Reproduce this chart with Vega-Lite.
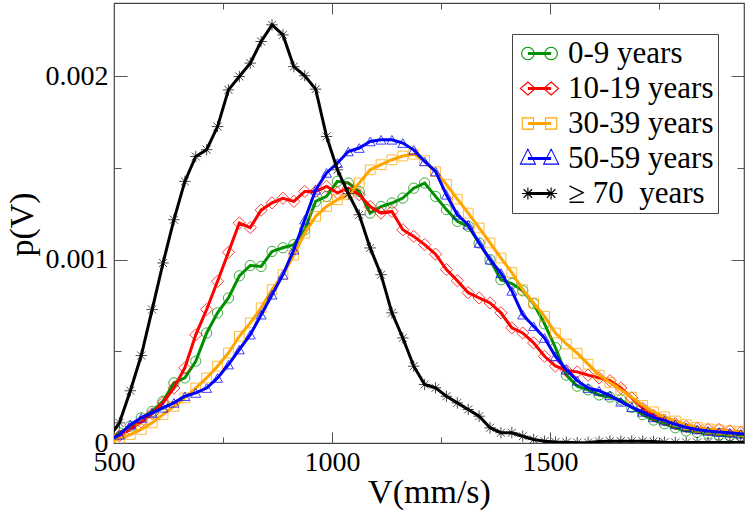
{
  "$schema": "https://vega.github.io/schema/vega-lite/v6.json",
  "width": 630,
  "height": 440,
  "autosize": {"type": "none"},
  "padding": {"left": 114, "top": 3, "right": 5, "bottom": 68},
  "background": "white",
  "config": {
    "view": {"stroke": "#444", "strokeWidth": 1.2},
    "axis": {"domain": false, "grid": false, "tickColor": "#555", "tickWidth": 1, "labelFont": "Liberation Serif", "labelFontSize": 28, "labelColor": "black", "titleFont": "Liberation Serif", "titleFontSize": 34, "titleFontWeight": "normal", "titleColor": "black", "labelFlush": false, "labelOverlap": false},
    "legend": {"labelFont": "Liberation Serif", "labelFontSize": 31, "labelColor": "black", "labelLimit": 400, "padding": 4, "strokeColor": "#444", "fillColor": "white", "symbolSize": 625, "symbolStrokeWidth": 1.1, "symbolOffset": 8, "labelOffset": 13, "rowPadding": 3, "symbolOpacity": 1}
  },
  "datasets": {
    "curves": [
      {"group":"0-9 years","V":487.5,"p":0.02e-3},{"group":"0-9 years","V":512.5,"p":0.055e-3},{"group":"0-9 years","V":537.5,"p":0.092e-3},{"group":"0-9 years","V":562.5,"p":0.137e-3},{"group":"0-9 years","V":587.5,"p":0.173e-3},{"group":"0-9 years","V":612.5,"p":0.228e-3},{"group":"0-9 years","V":637.5,"p":0.328e-3},{"group":"0-9 years","V":662.5,"p":0.355e-3},{"group":"0-9 years","V":687.5,"p":0.446e-3},{"group":"0-9 years","V":712.5,"p":0.6e-3},
      {"group":"0-9 years","V":737.5,"p":0.71e-3},{"group":"0-9 years","V":762.5,"p":0.791e-3},{"group":"0-9 years","V":787.5,"p":0.912e-3},{"group":"0-9 years","V":812.5,"p":0.968e-3},{"group":"0-9 years","V":837.5,"p":0.963e-3},{"group":"0-9 years","V":862.5,"p":1.045e-3},{"group":"0-9 years","V":887.5,"p":1.065e-3},{"group":"0-9 years","V":912.5,"p":1.082e-3},{"group":"0-9 years","V":937.5,"p":1.163e-3},{"group":"0-9 years","V":962.5,"p":1.318e-3},
      {"group":"0-9 years","V":987.5,"p":1.345e-3},{"group":"0-9 years","V":1012.5,"p":1.427e-3},{"group":"0-9 years","V":1037.5,"p":1.418e-3},{"group":"0-9 years","V":1062.5,"p":1.372e-3},{"group":"0-9 years","V":1087.5,"p":1.254e-3},{"group":"0-9 years","V":1112.5,"p":1.29e-3},{"group":"0-9 years","V":1137.5,"p":1.309e-3},{"group":"0-9 years","V":1162.5,"p":1.336e-3},{"group":"0-9 years","V":1187.5,"p":1.39e-3},{"group":"0-9 years","V":1212.5,"p":1.418e-3},
      {"group":"0-9 years","V":1237.5,"p":1.345e-3},{"group":"0-9 years","V":1262.5,"p":1.273e-3},{"group":"0-9 years","V":1287.5,"p":1.209e-3},{"group":"0-9 years","V":1312.5,"p":1.182e-3},{"group":"0-9 years","V":1337.5,"p":1.091e-3},{"group":"0-9 years","V":1362.5,"p":1.0e-3},{"group":"0-9 years","V":1387.5,"p":0.89e-3},{"group":"0-9 years","V":1412.5,"p":0.87e-3},{"group":"0-9 years","V":1437.5,"p":0.83e-3},{"group":"0-9 years","V":1462.5,"p":0.76e-3},
      {"group":"0-9 years","V":1487.5,"p":0.65e-3},{"group":"0-9 years","V":1512.5,"p":0.52e-3},{"group":"0-9 years","V":1537.5,"p":0.37e-3},{"group":"0-9 years","V":1562.5,"p":0.31e-3},{"group":"0-9 years","V":1587.5,"p":0.29e-3},{"group":"0-9 years","V":1612.5,"p":0.262e-3},{"group":"0-9 years","V":1637.5,"p":0.25e-3},{"group":"0-9 years","V":1662.5,"p":0.235e-3},{"group":"0-9 years","V":1687.5,"p":0.195e-3},{"group":"0-9 years","V":1712.5,"p":0.155e-3},
      {"group":"0-9 years","V":1737.5,"p":0.125e-3},{"group":"0-9 years","V":1762.5,"p":0.105e-3},{"group":"0-9 years","V":1787.5,"p":0.083e-3},{"group":"0-9 years","V":1812.5,"p":0.066e-3},{"group":"0-9 years","V":1837.5,"p":0.058e-3},{"group":"0-9 years","V":1862.5,"p":0.05e-3},{"group":"0-9 years","V":1887.5,"p":0.044e-3},{"group":"0-9 years","V":1912.5,"p":0.04e-3},{"group":"0-9 years","V":1937.5,"p":0.037e-3},{"group":"0-9 years","V":1962.5,"p":0.035e-3},

      {"group":"10-19 years","V":487.5,"p":0.01e-3},{"group":"10-19 years","V":512.5,"p":0.04e-3},{"group":"10-19 years","V":537.5,"p":0.075e-3},{"group":"10-19 years","V":562.5,"p":0.115e-3},{"group":"10-19 years","V":587.5,"p":0.16e-3},{"group":"10-19 years","V":612.5,"p":0.22e-3},{"group":"10-19 years","V":637.5,"p":0.30e-3},{"group":"10-19 years","V":662.5,"p":0.41e-3},{"group":"10-19 years","V":687.5,"p":0.59e-3},{"group":"10-19 years","V":712.5,"p":0.728e-3},
      {"group":"10-19 years","V":737.5,"p":0.882e-3},{"group":"10-19 years","V":762.5,"p":1.04e-3},{"group":"10-19 years","V":787.5,"p":1.2e-3},{"group":"10-19 years","V":812.5,"p":1.175e-3},{"group":"10-19 years","V":837.5,"p":1.27e-3},{"group":"10-19 years","V":862.5,"p":1.31e-3},{"group":"10-19 years","V":887.5,"p":1.335e-3},{"group":"10-19 years","V":912.5,"p":1.318e-3},{"group":"10-19 years","V":937.5,"p":1.372e-3},{"group":"10-19 years","V":962.5,"p":1.372e-3},
      {"group":"10-19 years","V":987.5,"p":1.40e-3},{"group":"10-19 years","V":1012.5,"p":1.364e-3},{"group":"10-19 years","V":1037.5,"p":1.39e-3},{"group":"10-19 years","V":1062.5,"p":1.354e-3},{"group":"10-19 years","V":1087.5,"p":1.29e-3},{"group":"10-19 years","V":1112.5,"p":1.254e-3},{"group":"10-19 years","V":1137.5,"p":1.263e-3},{"group":"10-19 years","V":1162.5,"p":1.163e-3},{"group":"10-19 years","V":1187.5,"p":1.127e-3},{"group":"10-19 years","V":1212.5,"p":1.082e-3},
      {"group":"10-19 years","V":1237.5,"p":1.03e-3},{"group":"10-19 years","V":1262.5,"p":0.946e-3},{"group":"10-19 years","V":1287.5,"p":0.885e-3},{"group":"10-19 years","V":1312.5,"p":0.82e-3},{"group":"10-19 years","V":1337.5,"p":0.791e-3},{"group":"10-19 years","V":1362.5,"p":0.764e-3},{"group":"10-19 years","V":1387.5,"p":0.71e-3},{"group":"10-19 years","V":1412.5,"p":0.628e-3},{"group":"10-19 years","V":1437.5,"p":0.6e-3},{"group":"10-19 years","V":1462.5,"p":0.546e-3},
      {"group":"10-19 years","V":1487.5,"p":0.473e-3},{"group":"10-19 years","V":1512.5,"p":0.42e-3},{"group":"10-19 years","V":1537.5,"p":0.395e-3},{"group":"10-19 years","V":1562.5,"p":0.388e-3},{"group":"10-19 years","V":1587.5,"p":0.37e-3},{"group":"10-19 years","V":1612.5,"p":0.355e-3},{"group":"10-19 years","V":1637.5,"p":0.34e-3},{"group":"10-19 years","V":1662.5,"p":0.30e-3},{"group":"10-19 years","V":1687.5,"p":0.246e-3},{"group":"10-19 years","V":1712.5,"p":0.19e-3},
      {"group":"10-19 years","V":1737.5,"p":0.15e-3},{"group":"10-19 years","V":1762.5,"p":0.125e-3},{"group":"10-19 years","V":1787.5,"p":0.105e-3},{"group":"10-19 years","V":1812.5,"p":0.09e-3},{"group":"10-19 years","V":1837.5,"p":0.08e-3},{"group":"10-19 years","V":1862.5,"p":0.074e-3},{"group":"10-19 years","V":1887.5,"p":0.074e-3},{"group":"10-19 years","V":1912.5,"p":0.066e-3},{"group":"10-19 years","V":1937.5,"p":0.058e-3},{"group":"10-19 years","V":1962.5,"p":0.055e-3},

      {"group":"30-39 years","V":487.5,"p":0.005e-3},{"group":"30-39 years","V":512.5,"p":0.023e-3},{"group":"30-39 years","V":537.5,"p":0.046e-3},{"group":"30-39 years","V":562.5,"p":0.074e-3},{"group":"30-39 years","V":587.5,"p":0.11e-3},{"group":"30-39 years","V":612.5,"p":0.155e-3},{"group":"30-39 years","V":637.5,"p":0.2e-3},{"group":"30-39 years","V":662.5,"p":0.246e-3},{"group":"30-39 years","V":687.5,"p":0.3e-3},{"group":"30-39 years","V":712.5,"p":0.355e-3},
      {"group":"30-39 years","V":737.5,"p":0.419e-3},{"group":"30-39 years","V":762.5,"p":0.491e-3},{"group":"30-39 years","V":787.5,"p":0.582e-3},{"group":"30-39 years","V":812.5,"p":0.655e-3},{"group":"30-39 years","V":837.5,"p":0.737e-3},{"group":"30-39 years","V":862.5,"p":0.837e-3},{"group":"30-39 years","V":887.5,"p":0.918e-3},{"group":"30-39 years","V":912.5,"p":1.025e-3},{"group":"30-39 years","V":937.5,"p":1.145e-3},{"group":"30-39 years","V":962.5,"p":1.236e-3},
      {"group":"30-39 years","V":987.5,"p":1.29e-3},{"group":"30-39 years","V":1012.5,"p":1.327e-3},{"group":"30-39 years","V":1037.5,"p":1.354e-3},{"group":"30-39 years","V":1062.5,"p":1.418e-3},{"group":"30-39 years","V":1087.5,"p":1.49e-3},{"group":"30-39 years","V":1112.5,"p":1.518e-3},{"group":"30-39 years","V":1137.5,"p":1.545e-3},{"group":"30-39 years","V":1162.5,"p":1.565e-3},{"group":"30-39 years","V":1187.5,"p":1.575e-3},{"group":"30-39 years","V":1212.5,"p":1.54e-3},
      {"group":"30-39 years","V":1237.5,"p":1.48e-3},{"group":"30-39 years","V":1262.5,"p":1.41e-3},{"group":"30-39 years","V":1287.5,"p":1.33e-3},{"group":"30-39 years","V":1312.5,"p":1.254e-3},{"group":"30-39 years","V":1337.5,"p":1.173e-3},{"group":"30-39 years","V":1362.5,"p":1.091e-3},{"group":"30-39 years","V":1387.5,"p":1.009e-3},{"group":"30-39 years","V":1412.5,"p":0.93e-3},{"group":"30-39 years","V":1437.5,"p":0.837e-3},{"group":"30-39 years","V":1462.5,"p":0.764e-3},
      {"group":"30-39 years","V":1487.5,"p":0.691e-3},{"group":"30-39 years","V":1512.5,"p":0.6e-3},{"group":"30-39 years","V":1537.5,"p":0.54e-3},{"group":"30-39 years","V":1562.5,"p":0.49e-3},{"group":"30-39 years","V":1587.5,"p":0.43e-3},{"group":"30-39 years","V":1612.5,"p":0.37e-3},{"group":"30-39 years","V":1637.5,"p":0.33e-3},{"group":"30-39 years","V":1662.5,"p":0.29e-3},{"group":"30-39 years","V":1687.5,"p":0.25e-3},{"group":"30-39 years","V":1712.5,"p":0.205e-3},
      {"group":"30-39 years","V":1737.5,"p":0.17e-3},{"group":"30-39 years","V":1762.5,"p":0.143e-3},{"group":"30-39 years","V":1787.5,"p":0.12e-3},{"group":"30-39 years","V":1812.5,"p":0.1e-3},{"group":"30-39 years","V":1837.5,"p":0.086e-3},{"group":"30-39 years","V":1862.5,"p":0.077e-3},{"group":"30-39 years","V":1887.5,"p":0.072e-3},{"group":"30-39 years","V":1912.5,"p":0.066e-3},{"group":"30-39 years","V":1937.5,"p":0.062e-3},{"group":"30-39 years","V":1962.5,"p":0.06e-3},

      {"group":"50-59 years","V":487.5,"p":0.015e-3},{"group":"50-59 years","V":512.5,"p":0.045e-3},{"group":"50-59 years","V":537.5,"p":0.1e-3},{"group":"50-59 years","V":562.5,"p":0.137e-3},{"group":"50-59 years","V":587.5,"p":0.164e-3},{"group":"50-59 years","V":612.5,"p":0.192e-3},{"group":"50-59 years","V":637.5,"p":0.219e-3},{"group":"50-59 years","V":662.5,"p":0.255e-3},{"group":"50-59 years","V":687.5,"p":0.273e-3},{"group":"50-59 years","V":712.5,"p":0.3e-3},
      {"group":"50-59 years","V":737.5,"p":0.355e-3},{"group":"50-59 years","V":762.5,"p":0.428e-3},{"group":"50-59 years","V":787.5,"p":0.51e-3},{"group":"50-59 years","V":812.5,"p":0.591e-3},{"group":"50-59 years","V":837.5,"p":0.7e-3},{"group":"50-59 years","V":862.5,"p":0.809e-3},{"group":"50-59 years","V":887.5,"p":0.918e-3},{"group":"50-59 years","V":912.5,"p":1.054e-3},{"group":"50-59 years","V":937.5,"p":1.218e-3},{"group":"50-59 years","V":962.5,"p":1.381e-3},
      {"group":"50-59 years","V":987.5,"p":1.473e-3},{"group":"50-59 years","V":1012.5,"p":1.527e-3},{"group":"50-59 years","V":1037.5,"p":1.59e-3},{"group":"50-59 years","V":1062.5,"p":1.609e-3},{"group":"50-59 years","V":1087.5,"p":1.645e-3},{"group":"50-59 years","V":1112.5,"p":1.654e-3},{"group":"50-59 years","V":1137.5,"p":1.654e-3},{"group":"50-59 years","V":1162.5,"p":1.636e-3},{"group":"50-59 years","V":1187.5,"p":1.599e-3},{"group":"50-59 years","V":1212.5,"p":1.536e-3},
      {"group":"50-59 years","V":1237.5,"p":1.481e-3},{"group":"50-59 years","V":1262.5,"p":1.354e-3},{"group":"50-59 years","V":1287.5,"p":1.245e-3},{"group":"50-59 years","V":1312.5,"p":1.191e-3},{"group":"50-59 years","V":1337.5,"p":1.091e-3},{"group":"50-59 years","V":1362.5,"p":1.0e-3},{"group":"50-59 years","V":1387.5,"p":0.927e-3},{"group":"50-59 years","V":1412.5,"p":0.83e-3},{"group":"50-59 years","V":1437.5,"p":0.7e-3},{"group":"50-59 years","V":1462.5,"p":0.637e-3},
      {"group":"50-59 years","V":1487.5,"p":0.573e-3},{"group":"50-59 years","V":1512.5,"p":0.473e-3},{"group":"50-59 years","V":1537.5,"p":0.4e-3},{"group":"50-59 years","V":1562.5,"p":0.34e-3},{"group":"50-59 years","V":1587.5,"p":0.3e-3},{"group":"50-59 years","V":1612.5,"p":0.285e-3},{"group":"50-59 years","V":1637.5,"p":0.26e-3},{"group":"50-59 years","V":1662.5,"p":0.225e-3},{"group":"50-59 years","V":1687.5,"p":0.195e-3},{"group":"50-59 years","V":1712.5,"p":0.17e-3},
      {"group":"50-59 years","V":1737.5,"p":0.14e-3},{"group":"50-59 years","V":1762.5,"p":0.122e-3},{"group":"50-59 years","V":1787.5,"p":0.102e-3},{"group":"50-59 years","V":1812.5,"p":0.085e-3},{"group":"50-59 years","V":1837.5,"p":0.074e-3},{"group":"50-59 years","V":1862.5,"p":0.066e-3},{"group":"50-59 years","V":1887.5,"p":0.06e-3},{"group":"50-59 years","V":1912.5,"p":0.056e-3},{"group":"50-59 years","V":1937.5,"p":0.05e-3},{"group":"50-59 years","V":1962.5,"p":0.046e-3},

      {"group":"≥ 70\u00a0 years","V":487.5,"p":0.03e-3},{"group":"≥ 70\u00a0 years","V":512.5,"p":0.11e-3},{"group":"≥ 70\u00a0 years","V":537.5,"p":0.285e-3},{"group":"≥ 70\u00a0 years","V":562.5,"p":0.477e-3},{"group":"≥ 70\u00a0 years","V":587.5,"p":0.728e-3},{"group":"≥ 70\u00a0 years","V":612.5,"p":0.982e-3},{"group":"≥ 70\u00a0 years","V":637.5,"p":1.218e-3},{"group":"≥ 70\u00a0 years","V":662.5,"p":1.427e-3},{"group":"≥ 70\u00a0 years","V":687.5,"p":1.563e-3},{"group":"≥ 70\u00a0 years","V":712.5,"p":1.60e-3},
      {"group":"≥ 70\u00a0 years","V":737.5,"p":1.726e-3},{"group":"≥ 70\u00a0 years","V":762.5,"p":1.926e-3},{"group":"≥ 70\u00a0 years","V":787.5,"p":1.999e-3},{"group":"≥ 70\u00a0 years","V":812.5,"p":2.072e-3},{"group":"≥ 70\u00a0 years","V":837.5,"p":2.19e-3},{"group":"≥ 70\u00a0 years","V":862.5,"p":2.281e-3},{"group":"≥ 70\u00a0 years","V":887.5,"p":2.226e-3},{"group":"≥ 70\u00a0 years","V":912.5,"p":2.053e-3},{"group":"≥ 70\u00a0 years","V":937.5,"p":2.003e-3},{"group":"≥ 70\u00a0 years","V":962.5,"p":1.93e-3},
      {"group":"≥ 70\u00a0 years","V":987.5,"p":1.672e-3},{"group":"≥ 70\u00a0 years","V":1012.5,"p":1.49e-3},{"group":"≥ 70\u00a0 years","V":1037.5,"p":1.36e-3},{"group":"≥ 70\u00a0 years","V":1062.5,"p":1.245e-3},{"group":"≥ 70\u00a0 years","V":1087.5,"p":1.064e-3},{"group":"≥ 70\u00a0 years","V":1112.5,"p":0.918e-3},{"group":"≥ 70\u00a0 years","V":1137.5,"p":0.71e-3},{"group":"≥ 70\u00a0 years","V":1162.5,"p":0.573e-3},{"group":"≥ 70\u00a0 years","V":1187.5,"p":0.419e-3},{"group":"≥ 70\u00a0 years","V":1212.5,"p":0.319e-3},
      {"group":"≥ 70\u00a0 years","V":1237.5,"p":0.301e-3},{"group":"≥ 70\u00a0 years","V":1262.5,"p":0.255e-3},{"group":"≥ 70\u00a0 years","V":1287.5,"p":0.219e-3},{"group":"≥ 70\u00a0 years","V":1312.5,"p":0.183e-3},{"group":"≥ 70\u00a0 years","V":1337.5,"p":0.146e-3},{"group":"≥ 70\u00a0 years","V":1362.5,"p":0.083e-3},{"group":"≥ 70\u00a0 years","V":1387.5,"p":0.056e-3},{"group":"≥ 70\u00a0 years","V":1412.5,"p":0.056e-3},{"group":"≥ 70\u00a0 years","V":1437.5,"p":0.037e-3},{"group":"≥ 70\u00a0 years","V":1462.5,"p":0.019e-3},
      {"group":"≥ 70\u00a0 years","V":1487.5,"p":0.01e-3},{"group":"≥ 70\u00a0 years","V":1512.5,"p":0.005e-3},{"group":"≥ 70\u00a0 years","V":1537.5,"p":0.004e-3},{"group":"≥ 70\u00a0 years","V":1562.5,"p":0.002e-3},{"group":"≥ 70\u00a0 years","V":1587.5,"p":0.003e-3},{"group":"≥ 70\u00a0 years","V":1612.5,"p":0.008e-3},{"group":"≥ 70\u00a0 years","V":1637.5,"p":0.01e-3},{"group":"≥ 70\u00a0 years","V":1662.5,"p":0.01e-3},{"group":"≥ 70\u00a0 years","V":1687.5,"p":0.01e-3},{"group":"≥ 70\u00a0 years","V":1712.5,"p":0.01e-3},
      {"group":"≥ 70\u00a0 years","V":1737.5,"p":0.008e-3},{"group":"≥ 70\u00a0 years","V":1762.5,"p":0.004e-3},{"group":"≥ 70\u00a0 years","V":1787.5,"p":0.003e-3},{"group":"≥ 70\u00a0 years","V":1812.5,"p":0.003e-3},{"group":"≥ 70\u00a0 years","V":1837.5,"p":0.003e-3},{"group":"≥ 70\u00a0 years","V":1862.5,"p":0.003e-3},{"group":"≥ 70\u00a0 years","V":1887.5,"p":0.003e-3},{"group":"≥ 70\u00a0 years","V":1912.5,"p":0.003e-3},{"group":"≥ 70\u00a0 years","V":1937.5,"p":0.003e-3},{"group":"≥ 70\u00a0 years","V":1962.5,"p":0.003e-3}
    ]
  },
  "data": {"name": "curves"},
  "resolve": {"axis": {"x": "independent", "y": "independent"}},
  "layer": [
    {
      "transform": [{"filter": {"field": "group", "equal": "0-9 years"}}],
      "mark": {"type": "line", "strokeWidth": 3, "clip": true, "color": "#009000"},
      "encoding": {
        "x": {"field": "V", "type": "quantitative", "scale": {"domain": [500, 1945], "nice": false, "zero": false},
              "axis": {"orient": "bottom", "values": [500, 1000, 1500], "format": "d", "tickSize": -11, "labelPadding": 16.5, "title": "V(mm/s)", "titleBaseline": "alphabetic", "titleY": 59}},
        "y": {"field": "p", "type": "quantitative", "scale": {"domain": [0, 0.0024], "nice": false},
              "axis": {"orient": "left", "values": [0, 0.001, 0.002], "labelExpr": "datum.value == 0 ? '0' : format(datum.value, '.3f')", "tickSize": -13, "labelPadding": 19, "title": "p(V)", "titleAngle": -90, "titleBaseline": "alphabetic", "titleX": -82, "titleY": 221}}
      }
    },
    {
      "transform": [{"filter": {"field": "group", "equal": "0-9 years"}}],
      "mark": {"type": "point", "shape": "circle", "size": 105, "strokeWidth": 1, "filled": false, "opacity": 0.75, "clip": true, "color": "#009000"},
      "encoding": {
        "x": {"field": "V", "type": "quantitative", "scale": {"domain": [500, 1945], "nice": false, "zero": false},
              "axis": {"orient": "bottom", "values": [750, 1250, 1750], "labels": false, "tickSize": -6, "title": null}},
        "y": {"field": "p", "type": "quantitative", "scale": {"domain": [0, 0.0024], "nice": false},
              "axis": {"orient": "left", "values": [0.0005, 0.0015], "labels": false, "tickSize": -7, "title": null}}
      }
    },
    {
      "transform": [{"filter": {"field": "group", "equal": "10-19 years"}}],
      "mark": {"type": "line", "strokeWidth": 3, "clip": true, "color": "#ff0000"},
      "encoding": {
        "x": {"field": "V", "type": "quantitative", "scale": {"domain": [500, 1945], "nice": false, "zero": false},
              "axis": {"orient": "top", "values": [500, 1000, 1500], "labels": false, "tickSize": -11, "title": null}},
        "y": {"field": "p", "type": "quantitative", "scale": {"domain": [0, 0.0024], "nice": false},
              "axis": {"orient": "right", "values": [0, 0.001, 0.002], "labels": false, "tickSize": -13, "title": null}}
      }
    },
    {
      "transform": [{"filter": {"field": "group", "equal": "10-19 years"}}],
      "mark": {"type": "point", "shape": "M0,-1L1,0L0,1L-1,0Z", "size": 150, "strokeWidth": 1, "filled": false, "opacity": 0.75, "clip": true, "color": "#ff0000"},
      "encoding": {
        "x": {"field": "V", "type": "quantitative", "scale": {"domain": [500, 1945], "nice": false, "zero": false},
              "axis": {"orient": "top", "values": [750, 1250, 1750], "labels": false, "tickSize": -6, "title": null}},
        "y": {"field": "p", "type": "quantitative", "scale": {"domain": [0, 0.0024], "nice": false},
              "axis": {"orient": "right", "values": [0.0005, 0.0015], "labels": false, "tickSize": -7, "title": null}}
      }
    },
    {
      "transform": [{"filter": {"field": "group", "equal": "30-39 years"}}],
      "mark": {"type": "line", "strokeWidth": 3, "clip": true, "color": "#ffa500"},
      "encoding": {
        "x": {"field": "V", "type": "quantitative", "scale": {"domain": [500, 1945], "nice": false, "zero": false}, "axis": null},
        "y": {"field": "p", "type": "quantitative", "scale": {"domain": [0, 0.0024], "nice": false}, "axis": null}
      }
    },
    {
      "transform": [{"filter": {"field": "group", "equal": "30-39 years"}}],
      "mark": {"type": "point", "shape": "square", "size": 95, "strokeWidth": 1, "filled": false, "opacity": 0.75, "clip": true, "color": "#ffa500"},
      "encoding": {
        "x": {"field": "V", "type": "quantitative", "scale": {"domain": [500, 1945], "nice": false, "zero": false}, "axis": null},
        "y": {"field": "p", "type": "quantitative", "scale": {"domain": [0, 0.0024], "nice": false}, "axis": null}
      }
    },
    {
      "transform": [{"filter": {"field": "group", "equal": "50-59 years"}}],
      "mark": {"type": "line", "strokeWidth": 3, "clip": true, "color": "#0000ff"},
      "encoding": {
        "x": {"field": "V", "type": "quantitative", "scale": {"domain": [500, 1945], "nice": false, "zero": false}, "axis": null},
        "y": {"field": "p", "type": "quantitative", "scale": {"domain": [0, 0.0024], "nice": false}, "axis": null}
      }
    },
    {
      "transform": [{"filter": {"field": "group", "equal": "50-59 years"}}],
      "mark": {"type": "point", "shape": "triangle-up", "size": 100, "strokeWidth": 1, "filled": false, "opacity": 0.75, "clip": true, "color": "#0000ff"},
      "encoding": {
        "x": {"field": "V", "type": "quantitative", "scale": {"domain": [500, 1945], "nice": false, "zero": false}, "axis": null},
        "y": {"field": "p", "type": "quantitative", "scale": {"domain": [0, 0.0024], "nice": false}, "axis": null}
      }
    },
    {
      "transform": [{"filter": {"field": "group", "equal": "≥ 70\u00a0 years"}}],
      "mark": {"type": "line", "strokeWidth": 3, "clip": true, "color": "#000000"},
      "encoding": {
        "x": {"field": "V", "type": "quantitative", "scale": {"domain": [500, 1945], "nice": false, "zero": false}, "axis": null},
        "y": {"field": "p", "type": "quantitative", "scale": {"domain": [0, 0.0024], "nice": false}, "axis": null}
      }
    },
    {
      "transform": [{"filter": {"field": "group", "equal": "≥ 70\u00a0 years"}}],
      "mark": {"type": "point", "shape": "M-1,0L1,0M0,-1L0,1M-0.7,-0.7L0.7,0.7M-0.7,0.7L0.7,-0.7", "size": 130, "strokeWidth": 1, "filled": false, "opacity": 0.7, "clip": true, "color": "#000000"},
      "encoding": {
        "x": {"field": "V", "type": "quantitative", "scale": {"domain": [500, 1945], "nice": false, "zero": false}, "axis": null},
        "y": {"field": "p", "type": "quantitative", "scale": {"domain": [0, 0.0024], "nice": false}, "axis": null}
      }
    },
    {
      "transform": [{"filter": "datum.V < 0"}],
      "mark": {"type": "point", "filled": false, "opacity": 1, "strokeWidth": 1.1},
      "encoding": {
        "color": {"field": "group", "type": "nominal",
                  "scale": {"domain": ["0-9 years", "10-19 years", "30-39 years", "50-59 years", "≥ 70\u00a0 years"], "range": ["#009000", "#ff0000", "#ffa500", "#0000ff", "#000000"]},
                  "legend": {"orient": "none", "legendX": 398, "legendY": 31, "title": null}},
        "shape": {"field": "group", "type": "nominal",
                  "scale": {"domain": ["0-9 years", "10-19 years", "30-39 years", "50-59 years", "≥ 70\u00a0 years"],
                            "range": [
                              "M-0.93,-0.08L0.93,-0.08M-0.93,0L0.93,0M-0.93,0.08L0.93,0.08M-1.43,0A0.5,0.5,0,1,0,-0.43,0A0.5,0.5,0,1,0,-1.43,0ZM0.43,0A0.5,0.5,0,1,0,1.43,0A0.5,0.5,0,1,0,0.43,0Z",
                              "M-0.93,-0.08L0.93,-0.08M-0.93,0L0.93,0M-0.93,0.08L0.93,0.08M-0.93,-0.52L-0.33,0L-0.93,0.52L-1.53,0ZM0.93,-0.52L1.53,0L0.93,0.52L0.33,0Z",
                              "M-0.93,-0.08L0.93,-0.08M-0.93,0L0.93,0M-0.93,0.08L0.93,0.08M-1.38,-0.45L-0.48,-0.45L-0.48,0.45L-1.38,0.45ZM0.48,-0.45L1.38,-0.45L1.38,0.45L0.48,0.45Z",
                              "M-0.93,-0.08L0.93,-0.08M-0.93,0L0.93,0M-0.93,0.08L0.93,0.08M-0.93,-0.75L-0.33,0.45L-1.53,0.45ZM0.93,-0.75L1.53,0.45L0.33,0.45Z",
                              "M-0.93,-0.08L0.93,-0.08M-0.93,0L0.93,0M-0.93,0.08L0.93,0.08M-1.41,0L-0.45,0M-0.93,-0.48L-0.93,0.48M-1.27,-0.34L-0.59,0.34M-1.27,0.34L-0.59,-0.34M0.45,0L1.41,0M0.93,-0.48L0.93,0.48M0.59,-0.34L1.27,0.34M0.59,0.34L1.27,-0.34"
                            ]},
                  "legend": {"orient": "none", "legendX": 398, "legendY": 31, "title": null}}
      }
    }
  ]
}
